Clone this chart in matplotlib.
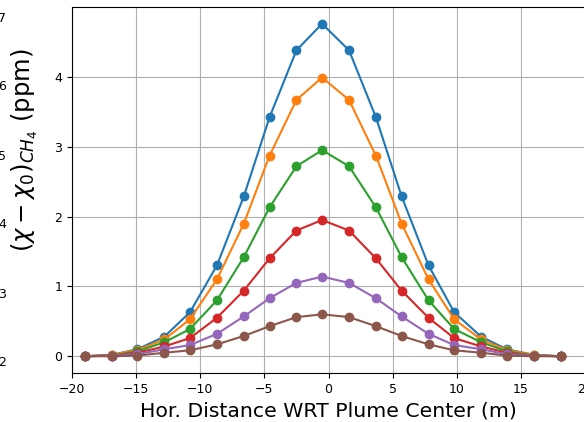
import numpy as np
import matplotlib
matplotlib.use('Agg')
import matplotlib.pyplot as plt

# horizontal distance (m) of the sample points
dist = [-19.0, -16.9, -14.9, -12.8, -10.8, -8.7, -6.6, -4.6, -2.5, -0.5,
        1.6, 3.7, 5.7, 7.8, 9.8, 11.9, 13.9, 16.0, 18.1]

# methane enhancement (ppm) for each profile
s1 = [0.0, 0.02, 0.10, 0.28, 0.63, 1.30, 2.29, 3.42, 4.38, 4.76,
      4.38, 3.42, 2.29, 1.30, 0.63, 0.28, 0.10, 0.02, 0.0]
s2 = [0.0, 0.02, 0.09, 0.24, 0.53, 1.10, 1.90, 2.87, 3.67, 3.99,
      3.67, 2.87, 1.90, 1.10, 0.53, 0.24, 0.09, 0.02, 0.0]
s3 = [0.0, 0.01, 0.07, 0.20, 0.39, 0.80, 1.42, 2.13, 2.72, 2.95,
      2.72, 2.13, 1.42, 0.80, 0.39, 0.20, 0.07, 0.01, 0.0]
s4 = [0.0, 0.01, 0.05, 0.14, 0.26, 0.55, 0.94, 1.40, 1.80, 1.95,
      1.80, 1.40, 0.94, 0.55, 0.26, 0.14, 0.05, 0.01, 0.0]
s5 = [0.0, 0.01, 0.03, 0.10, 0.16, 0.32, 0.57, 0.83, 1.05, 1.14,
      1.05, 0.83, 0.57, 0.32, 0.16, 0.10, 0.03, 0.01, 0.0]
s6 = [0.0, 0.0, 0.01, 0.05, 0.085, 0.17, 0.29, 0.43, 0.56, 0.60,
      0.56, 0.43, 0.29, 0.17, 0.085, 0.05, 0.01, 0.0, 0.0]

# tick labels of the neighbouring (cut off) axis at the left edge
side_labels = ['7', '6', '5', '4', '3', '2']

fig = plt.figure(figsize=(5.84, 4.22), dpi=100)
W, H = 584, 422
ax = fig.add_axes([72/W, 49/H, 513/W, 366/H])

for s in [s1, s2, s3, s4, s5, s6]:
    ax.plot(dist, s, marker='o')

ax.set_xlim(-20, 20)
ax.set_ylim(-0.24, 5.0)
ax.set_xticks(np.arange(-20, 21, 5))
ax.set_yticks([0, 1, 2, 3, 4])
ax.tick_params(labelsize=9)
ax.grid(True)
ax.set_xlabel('Hor. Distance WRT Plume Center (m)', fontsize=14.7)
ax.set_ylabel(r'$(\chi - \chi_0)_{CH_4}$ (ppm)', fontsize=17.5, ha='center', va='center')
ax.yaxis.set_label_coords((25-72)/513, (373-150)/366)

for i, t in enumerate(side_labels):
    fig.text(6/W, 1 - (18 + 69*i)/H, t, ha='right', va='center', fontsize=9)

plt.savefig('out.png', dpi=100)
